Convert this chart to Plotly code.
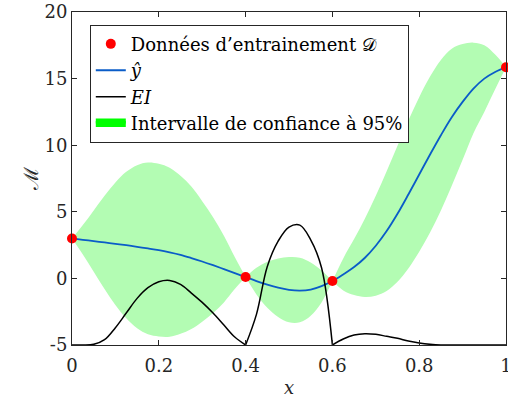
import plotly.graph_objects as go

x_grid = [round(i * 0.025, 3) for i in range(41)]

# predicted mean y-hat
y_mean = [3.0, 2.9, 2.8, 2.7, 2.6, 2.49, 2.37, 2.25, 2.12, 1.96, 1.77, 1.53, 1.27, 0.99, 0.7, 0.4, 0.1,
          -0.2, -0.47, -0.7, -0.86, -0.92, -0.84, -0.58, -0.2,
          0.3, 0.85, 1.55, 2.45, 3.55, 4.85, 6.3, 7.8, 9.3, 10.75, 12.1, 13.25, 14.25, 15.0, 15.5, 15.85]

# 95% confidence band
band_up = [3.0, 4.0, 5.1, 6.2, 7.2, 8.0, 8.5, 8.7, 8.6, 8.3, 7.7, 6.9, 5.8, 4.6, 3.2, 1.6, 0.1,
           0.8, 1.25, 1.5, 1.6, 1.55, 1.2, 0.6, -0.2,
           1.5, 2.95, 4.5, 6.2, 8.05, 9.95, 11.85, 13.6, 15.15, 16.4, 17.25, 17.6, 17.7, 17.5, 16.8, 15.85]
band_low = [3.0, 1.8, 0.5, -0.8, -2.0, -3.0, -3.75, -4.2, -4.36, -4.38, -4.16, -3.8, -3.25, -2.6, -1.8, -0.8, 0.1,
            -1.2, -2.2, -2.9, -3.3, -3.3, -2.8, -1.8, -0.2,
            -0.9, -1.25, -1.4, -1.3, -0.95, -0.25, 0.75, 2.0, 3.45, 5.1, 6.95, 8.9, 10.9, 12.5, 14.2, 15.85]

# expected improvement (shifted/scaled as in the figure)
ei = [-5, -5, -4.95, -4.6, -3.7, -2.6, -1.5, -0.7, -0.25, -0.15, -0.45, -1.1, -1.8, -2.6, -3.5, -4.4, -5,
      -2.7, 0.9, 2.8, 3.85, 4.0, 2.9, 0.8, -5,
      -4.55, -4.25, -4.15, -4.2, -4.35, -4.5, -4.7, -4.85, -4.95, -5, -5, -5, -5, -5, -5, -5]

# training data D
x_data = [0.0, 0.4, 0.6, 1.0]
y_data = [3.0, 0.1, -0.2, 15.85]

y_tickvals = [-5, 0, 5, 10, 15, 20]
y_ticktext = ["-5", "0", "5", "10", "15", "20"]

# index ranges between training points
segments = [(0, 16), (16, 24), (24, 40)]

serif = "DejaVu Serif"
axis_col = "#262626"
band_col = "rgb(179,252,179)"

fig = go.Figure()

for a, b in segments:
    fig.add_trace(go.Scatter(x=x_grid[a:b + 1], y=band_low[a:b + 1], mode='lines',
                             line=dict(width=0, shape='spline', color=band_col),
                             showlegend=False, hoverinfo='skip'))
    fig.add_trace(go.Scatter(x=x_grid[a:b + 1], y=band_up[a:b + 1], mode='lines',
                             line=dict(width=0, shape='spline', color=band_col),
                             fill='tonexty', fillcolor=band_col,
                             showlegend=False, hoverinfo='skip'))

# legend entry for the band
fig.add_trace(go.Scatter(x=[None], y=[None], mode='lines', fill='toself',
                         fillcolor='#00ff00', line=dict(color='#00ff00', width=5),
                         name='Intervalle de confiance à 95%', legendrank=4))

fig.add_trace(go.Scatter(x=x_grid, y=y_mean, mode='lines', name='<i>ŷ</i>',
                         line=dict(color='#0a5cc8', width=1.8, shape='spline'), legendrank=2))

for i, (a, b) in enumerate(segments):
    fig.add_trace(go.Scatter(x=x_grid[a:b + 1], y=ei[a:b + 1], mode='lines', name='<i>EI</i>',
                             line=dict(color='black', width=1.5, shape='spline'),
                             legendgroup='ei', showlegend=(i == 0), legendrank=3))

fig.add_trace(go.Scatter(x=x_data, y=y_data, mode='markers', name='Données d’entrainement 𝒟',
                         marker=dict(color='#ff0000', size=10), cliponaxis=False, legendrank=1))

fig.update_xaxes(range=[0, 1], dtick=0.2, showgrid=False, zeroline=False, automargin=False,
                 showline=True, linecolor=axis_col, linewidth=1, mirror='ticks',
                 ticks='inside', ticklen=5, tickcolor=axis_col, ticklabeloverflow='allow',
                 ticklabelstandoff=4,
                 tickfont=dict(family=serif, size=18, color=axis_col),
                 title=dict(text='<i>x</i>', font=dict(family=serif, size=18, color=axis_col), standoff=16))
fig.update_yaxes(range=[-5, 20], tickvals=y_tickvals, ticktext=y_ticktext, showgrid=False, zeroline=False,
                 automargin=False, ticklabeloverflow='allow',
                 showline=True, linecolor=axis_col, linewidth=1, mirror='ticks',
                 ticks='inside', ticklen=5, tickcolor=axis_col,
                 tickfont=dict(family=serif, size=18, color=axis_col),
                 title=dict(text='ℳ', font=dict(family=serif, size=20, color=axis_col), standoff=0))

fig.update_layout(
    width=508, height=398,
    margin=dict(l=72, r=2, t=12, b=53),
    plot_bgcolor='white', paper_bgcolor='white',
    legend=dict(x=0.041, y=0.962, xanchor='left', yanchor='top', tracegroupgap=0,
                bgcolor='white', bordercolor=axis_col, borderwidth=1,
                font=dict(family=serif, size=18, color='black')),
)

fig.write_html("out.html", config={'displayModeBar': False},
               post_script="document.body.style.margin='0';")
